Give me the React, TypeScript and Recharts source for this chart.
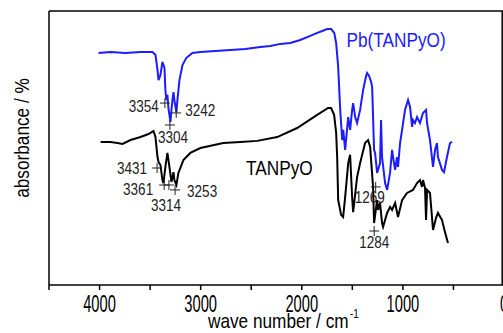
import React from 'react';
import { LineChart, Line, XAxis, YAxis, ReferenceLine, ReferenceDot } from 'recharts';

// ---- data ----
const blueWavenumber = [4010, 3892, 3743, 3595, 3477, 3447, 3427, 3417, 3398, 3378, 3358, 3349, 3339, 3329, 3319, 3299, 3289, 3279, 3269, 3260, 3240, 3230, 3210, 3180, 3141, 3082, 3003, 2855, 2706, 2558, 2410, 2311, 2213, 2114, 2015, 1916, 1847, 1798, 1749, 1709, 1679, 1660, 1640, 1620, 1610, 1600, 1590, 1571, 1541, 1522, 1502, 1492, 1472, 1453, 1423, 1393, 1364, 1354, 1334, 1314, 1304, 1294, 1285, 1275, 1255, 1226, 1216, 1206, 1176, 1156, 1127, 1107, 1097, 1077, 1058, 1048, 1028, 1008, 979, 949, 929, 909, 900, 880, 860, 831, 801, 771, 761, 732, 702, 682, 663, 653, 613, 593, 564, 534, 514];
const blueAbsorbance = [84.7, 85.0, 84.7, 85.0, 85.0, 84.0, 78.5, 74.8, 76.6, 81.4, 79.2, 71.2, 67.5, 69.4, 64.6, 59.5, 63.9, 67.5, 70.4, 67.5, 63.1, 67.5, 74.8, 80.3, 82.9, 84.7, 85.0, 85.4, 85.8, 86.1, 86.9, 87.2, 88.0, 88.3, 89.4, 90.9, 92.0, 92.7, 93.4, 93.4, 92.0, 88.3, 79.6, 63.9, 58.4, 52.9, 56.6, 49.3, 61.3, 56.6, 63.9, 66.4, 61.3, 59.1, 63.9, 71.2, 76.3, 77.4, 76.3, 74.1, 72.3, 60.2, 49.3, 48.2, 40.9, 44.5, 60.2, 46.7, 37.2, 34.7, 40.9, 49.3, 46.7, 42.0, 46.7, 43.1, 51.8, 56.6, 63.9, 67.5, 65.0, 57.7, 60.2, 59.1, 61.3, 59.1, 62.8, 63.9, 59.1, 52.9, 43.1, 49.3, 51.8, 46.7, 42.0, 41.2, 46.7, 51.8, 52.2];

const blackWavenumber = [3990, 3892, 3822, 3773, 3694, 3595, 3516, 3467, 3447, 3427, 3417, 3398, 3378, 3368, 3349, 3329, 3309, 3289, 3269, 3260, 3240, 3220, 3171, 3102, 3003, 2776, 2608, 2440, 2243, 2046, 1848, 1740, 1710, 1680, 1660, 1650, 1640, 1611, 1591, 1571, 1541, 1522, 1502, 1492, 1453, 1423, 1374, 1344, 1324, 1295, 1285, 1255, 1245, 1226, 1206, 1196, 1156, 1127, 1107, 1077, 1048, 1008, 959, 900, 860, 831, 811, 801, 781, 771, 761, 732, 702, 672, 653, 613, 584, 554];
const blackAbsorbance = [52.2, 52.2, 51.8, 51.5, 52.9, 54.0, 55.1, 56.2, 54.0, 46.7, 44.9, 43.8, 38.3, 37.2, 43.1, 48.2, 43.1, 37.6, 41.2, 38.3, 36.5, 40.9, 45.6, 48.2, 50.0, 51.8, 52.2, 52.6, 54.0, 57.3, 62.1, 64.6, 64.6, 62.1, 55.5, 46.7, 31.0, 25.6, 24.8, 32.1, 44.5, 47.5, 32.1, 26.6, 39.4, 44.5, 51.8, 52.9, 50.4, 35.8, 22.6, 31.0, 27.4, 29.9, 22.6, 21.2, 26.3, 28.5, 27.4, 29.9, 24.8, 31.0, 33.6, 34.7, 37.2, 38.3, 35.8, 38.3, 35.4, 23.7, 34.7, 33.6, 20.1, 24.5, 26.3, 23.7, 19.3, 15.3];

const xTicks = [4500, 4000, 3500, 3000, 2500, 2000, 1500, 1000, 500, 0];
const majorTickLabels = [4000, 3000, 2000, 1000, 0];

const bluePeakWavenumber = [3354, 3304, 3242];
const bluePeakAbsorbance = [66.4, 58.4, 62.8];
const blackPeakWavenumber = [3431, 3361, 3314, 3253, 1269, 1284];
const blackPeakAbsorbance = [42.7, 36.5, 36.5, 34.7, 35.8, 19.7];

const seriesNames = ['Pb(TANPyO)', 'TANPyO'];

// ---- layout / style ----
const FONT = '"Liberation Sans", Arial, sans-serif';
const NARROW = 0.82;
const BLUE = '#1c1cff';
const seriesLabelAt = [
  { x: 1067, y: 89.4, color: BLUE },
  { x: 2222, y: 42.7, color: '#000' },
];
const peakLabelOffset: Record<number, { dx: number; dy: number; anchor: 'start' | 'middle' | 'end' }> = {
  3354: { dx: -6, dy: 3, anchor: 'end' },
  3304: { dx: 3, dy: 12, anchor: 'middle' },
  3242: { dx: 9, dy: -3, anchor: 'start' },
  3431: { dx: -10, dy: 0, anchor: 'end' },
  3361: { dx: -11, dy: 4, anchor: 'end' },
  3314: { dx: -3, dy: 20, anchor: 'middle' },
  3253: { dx: 12, dy: 1, anchor: 'start' },
  1269: { dx: -6, dy: 10, anchor: 'middle' },
  1284: { dx: 0, dy: 11, anchor: 'middle' },
};

const blueData = blueWavenumber.map((wn, i) => ({ wn, v: blueAbsorbance[i] }));
const blackData = blackWavenumber.map((wn, i) => ({ wn, v: blackAbsorbance[i] }));
const peaks = [
  ...bluePeakWavenumber.map((wn, i) => ({ wn, v: bluePeakAbsorbance[i] })),
  ...blackPeakWavenumber.map((wn, i) => ({ wn, v: blackPeakAbsorbance[i] })),
];

// Condensed text, like the narrow font used in the reference
const NText = ({ x, y, size, fill = '#000', anchor = 'start', baseline, rotate = 0, sx = NARROW, children }: any) => (
  <text
    transform={`translate(${x},${y}) rotate(${rotate}) scale(${sx},1)`}
    x={0}
    y={0}
    textAnchor={anchor}
    dominantBaseline={baseline}
    fontFamily={FONT}
    fontSize={size}
    fill={fill}
  >
    {children}
  </text>
);

const XTick = (props: any) => {
  const { x, y, payload } = props;
  const val = payload.value;
  const major = majorTickLabels.includes(val);
  return (
    <g>
      <line x1={x} y1={y} x2={x} y2={y + 5} stroke="#000" strokeWidth={1.5} />
      {major && (
        <NText x={x} y={y + 27} size={23} sx={0.64} anchor="middle">
          {val}
        </NText>
      )}
    </g>
  );
};

const PeakMark = (wn: number) => (p: any) => {
  const { cx, cy } = p;
  const o = peakLabelOffset[wn];
  return (
    <g>
      <line x1={cx - 5} y1={cy} x2={cx + 5} y2={cy} stroke="#222" strokeWidth={1} />
      <line x1={cx} y1={cy - 5} x2={cx} y2={cy + 5} stroke="#222" strokeWidth={1} />
      <NText x={cx + o.dx} y={cy + o.dy} size={16.5} fill="#222" anchor={o.anchor} baseline="central">
        {wn}
      </NText>
    </g>
  );
};

const SeriesLabel = (name: string, color: string) => (p: any) => (
  <NText x={p.cx} y={p.cy} size={21} fill={color} anchor="middle" baseline="central">
    {name}
  </NText>
);

export default function App() {
  return (
    <div style={{ position: 'absolute', left: 0, top: 0, width: 503, height: 333, overflow: 'hidden', background: '#fff' }}>
      <LineChart width={504} height={333} margin={{ top: 11, right: 0, bottom: 0, left: 0 }}>
        <XAxis
          dataKey="wn"
          type="number"
          domain={[0, 4500]}
          reversed
          ticks={xTicks}
          interval={0}
          tickSize={0}
          tickMargin={0}
          tickLine={false}
          tick={<XTick />}
          height={48}
          axisLine={{ stroke: '#000', strokeWidth: 1.5 }}
          allowDataOverflow
        />
        <YAxis
          type="number"
          domain={[0, 100]}
          width={49}
          tick={false}
          tickLine={false}
          axisLine={{ stroke: '#000', strokeWidth: 1.5 }}
          allowDataOverflow
        />
        <ReferenceLine y={100} stroke="#000" strokeWidth={1.5} />
        <ReferenceLine x={18} stroke="#000" strokeWidth={1.5} />
        <Line data={blackData} dataKey="v" type="linear" stroke="#000" strokeWidth={2} dot={false} isAnimationActive={false} />
        <Line data={blueData} dataKey="v" type="linear" stroke={BLUE} strokeWidth={2} dot={false} isAnimationActive={false} />
        {peaks.map((pk) => (
          <ReferenceDot key={pk.wn} x={pk.wn} y={pk.v} r={5} ifOverflow="visible" shape={PeakMark(pk.wn)} />
        ))}
        {seriesNames.map((name, i) => (
          <ReferenceDot key={name} x={seriesLabelAt[i].x} y={seriesLabelAt[i].y} r={1} ifOverflow="visible" shape={SeriesLabel(name, seriesLabelAt[i].color)} />
        ))}
      </LineChart>
      <svg width={503} height={333} style={{ position: 'absolute', left: 0, top: 0, pointerEvents: 'none' }}>
        <NText x={22} y={138} rotate={-90} size={21} anchor="middle" baseline="central">
          absorbance / %
        </NText>
        <NText x={208} y={328} size={21}>
          wave number / cm
        </NText>
        <NText x={350} y={318} size={12}>
          -1
        </NText>
      </svg>
    </div>
  );
}
